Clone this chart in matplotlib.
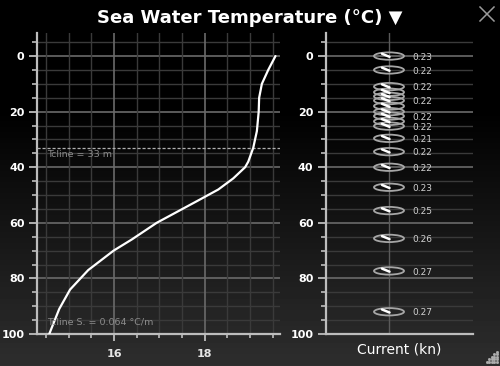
import numpy as np
import matplotlib
matplotlib.use("Agg")
import matplotlib.pyplot as plt
from matplotlib.patches import Ellipse
from matplotlib.ticker import MultipleLocator

# ---- data ----
temp_depth = [0, 5, 10, 15, 20, 27, 33, 38, 40, 44, 48, 52, 60, 66, 70, 77, 84, 91, 100]
temp_values = [19.56, 19.40, 19.26, 19.20, 19.19, 19.15, 19.07, 18.96, 18.89, 18.63,
               18.30, 17.85, 16.94, 16.39, 15.99, 15.43, 15.03, 14.79, 14.57]
tcline_depth = 33
tcline_label = "Tcline = 33 m"
tcline_slope_label = "Tcline S. = 0.064 °C/m"

current_depth = [0, 5, 11, 13, 14.5, 16, 18, 20, 21.6, 23.5, 25.2, 29.6, 34.4, 40, 47.2,
                 55.6, 65.6, 77.3, 92]
current_speed = [0.23, 0.22, 0.22, 0.22, 0.22, 0.22, 0.22, 0.22, 0.22, 0.22, 0.22, 0.21,
                 0.22, 0.22, 0.23, 0.25, 0.26, 0.27, 0.27]
current_labelled = [1, 1, 1, 0, 0, 1, 0, 0, 1, 0, 1, 1, 1, 1, 1, 1, 1, 1, 1]

depth_ticks = [0, 20, 40, 60, 80, 100]
temp_ticks = [16, 18]
title = "Sea Water Temperature (°C) ▼"
right_xlabel = "Current (kn)"

W, H = 500, 366
fig = plt.figure(figsize=(W / 100, H / 100), dpi=100)
fig.patch.set_facecolor("black")

# background gradient
bg = fig.add_axes([0, 0, 1, 1], zorder=-10)
rows = np.linspace(0, 1, H)
vals = np.clip((rows - 0.30) / 0.70, 0, 1) * 0.18
img = np.repeat(vals[:, None], 10, axis=1)
bg.imshow(img, cmap="gray", vmin=0, vmax=1, aspect="auto", extent=[0, 1, 0, 1])
bg.set_axis_off()

def fx(px):
    return px / W

def fy(py):
    return 1 - py / H

spine_col = "#bdbdbd"
major_grid = "#6a6a6a"
minor_grid = "#3a3a3a"

def style_depth_axis(ax):
    ax.set_facecolor("none")
    ax.set_ylim(100, -8.3)
    for s in ["top", "right"]:
        ax.spines[s].set_visible(False)
    for s in ["left", "bottom"]:
        ax.spines[s].set_color(spine_col)
        ax.spines[s].set_linewidth(1.6)
    ax.set_yticks(depth_ticks)
    ax.yaxis.set_minor_locator(MultipleLocator(5))
    ax.tick_params(axis="y", which="major", length=6, width=1.3, color=spine_col,
                   labelcolor="white", labelsize=8, pad=3)
    ax.tick_params(axis="y", which="minor", length=3.5, width=1.2, color=spine_col)
    for lab in ax.get_yticklabels():
        lab.set_fontweight("bold")
    for d in np.arange(-5, 100, 5):
        major = d % 20 == 0
        ax.axhline(d, color=major_grid if major else minor_grid,
                   lw=1.2 if major else 1.0, zorder=0)

# ---- left panel ----
axL = fig.add_axes([fx(37), fy(334), fx(280) - fx(37), fy(33) - fy(334)])
style_depth_axis(axL)
axL.set_xlim(14.3, 19.66)
axL.set_xticks(temp_ticks)
axL.xaxis.set_minor_locator(MultipleLocator(0.5))
axL.tick_params(axis="x", which="major", length=5, width=1.3, color=spine_col,
                labelcolor="#e6e6e6", labelsize=8, pad=6)
axL.tick_params(axis="x", which="minor", length=3, width=1.2, color=spine_col)
for lab in axL.get_xticklabels():
    lab.set_fontweight("bold")
for t in np.arange(14.5, 19.6, 0.5):
    major = t in temp_ticks
    axL.axvline(t, color=major_grid if major else minor_grid,
                lw=1.2 if major else 1.0, zorder=0)

axL.plot(temp_values, temp_depth, color="white", lw=1.6, zorder=5, solid_capstyle="round")
axL.axhline(tcline_depth, color="#b0b0b0", lw=0.9, ls=(0, (2.5, 1.5)), zorder=4)
axL.text(14.52, tcline_depth + 2.3, tcline_label, color="#8c8c8c", fontsize=6.8,
         va="center", ha="left", zorder=6)
axL.text(14.52, 95.7, tcline_slope_label, color="#8c8c8c", fontsize=6.8,
         va="center", ha="left", zorder=6)

# ---- right panel ----
axR = fig.add_axes([fx(326), fy(334), fx(473) - fx(326), fy(33) - fy(334)])
style_depth_axis(axR)
axR.set_xlim(0, 1)
axR.set_xticks([])
axR.set_xlabel(right_xlabel, color="white", fontsize=10, labelpad=6)
cx = (389 - 326) / 147
axR.axvline(cx, color="#5a5a5a", lw=1.0, zorder=1)

px_x = 1 / 147.0
px_y = 100 / 301.0
for d, s, lab in zip(current_depth, current_speed, current_labelled):
    e = Ellipse((cx, d), width=30 * px_x, height=8 * px_y, fill=False,
                edgecolor="#a6a6a6", lw=1.3, zorder=4)
    axR.add_patch(e)
    axR.plot([cx - 7 * px_x, cx + 0.5 * px_x], [d - 2.5 * px_y, d + 0.8 * px_y],
             color="white", lw=1.8, zorder=5, solid_capstyle="round")
    if lab:
        axR.text(cx + 23 * px_x, d + 1.2 * px_y, f"{s:.2f}", color="#d0d0d0",
                 fontsize=6.5, va="center", ha="left", zorder=6)

# ---- title & chrome ----
fig.text(0.5, fy(18), title, color="white", fontsize=13, fontweight="bold",
         ha="center", va="center")
fig.lines.append(plt.Line2D([fx(480), fx(494)], [fy(7), fy(21)], color="#9a9a9a", lw=1.1,
                            transform=fig.transFigure))
fig.lines.append(plt.Line2D([fx(480), fx(494)], [fy(21), fy(7)], color="#9a9a9a", lw=1.1,
                            transform=fig.transFigure))
gx, gy = [], []
for i in range(5):
    for j in range(5 - i):
        gx.append(fx(497 - 2.6 * j))
        gy.append(fy(362 - 2.6 * i))
fig.add_artist(plt.Line2D(gx, gy, ls="none", marker="s", ms=1.0, color="#b0b0b0",
                          transform=fig.transFigure))

fig.savefig("out.png", dpi=100, facecolor="black")
